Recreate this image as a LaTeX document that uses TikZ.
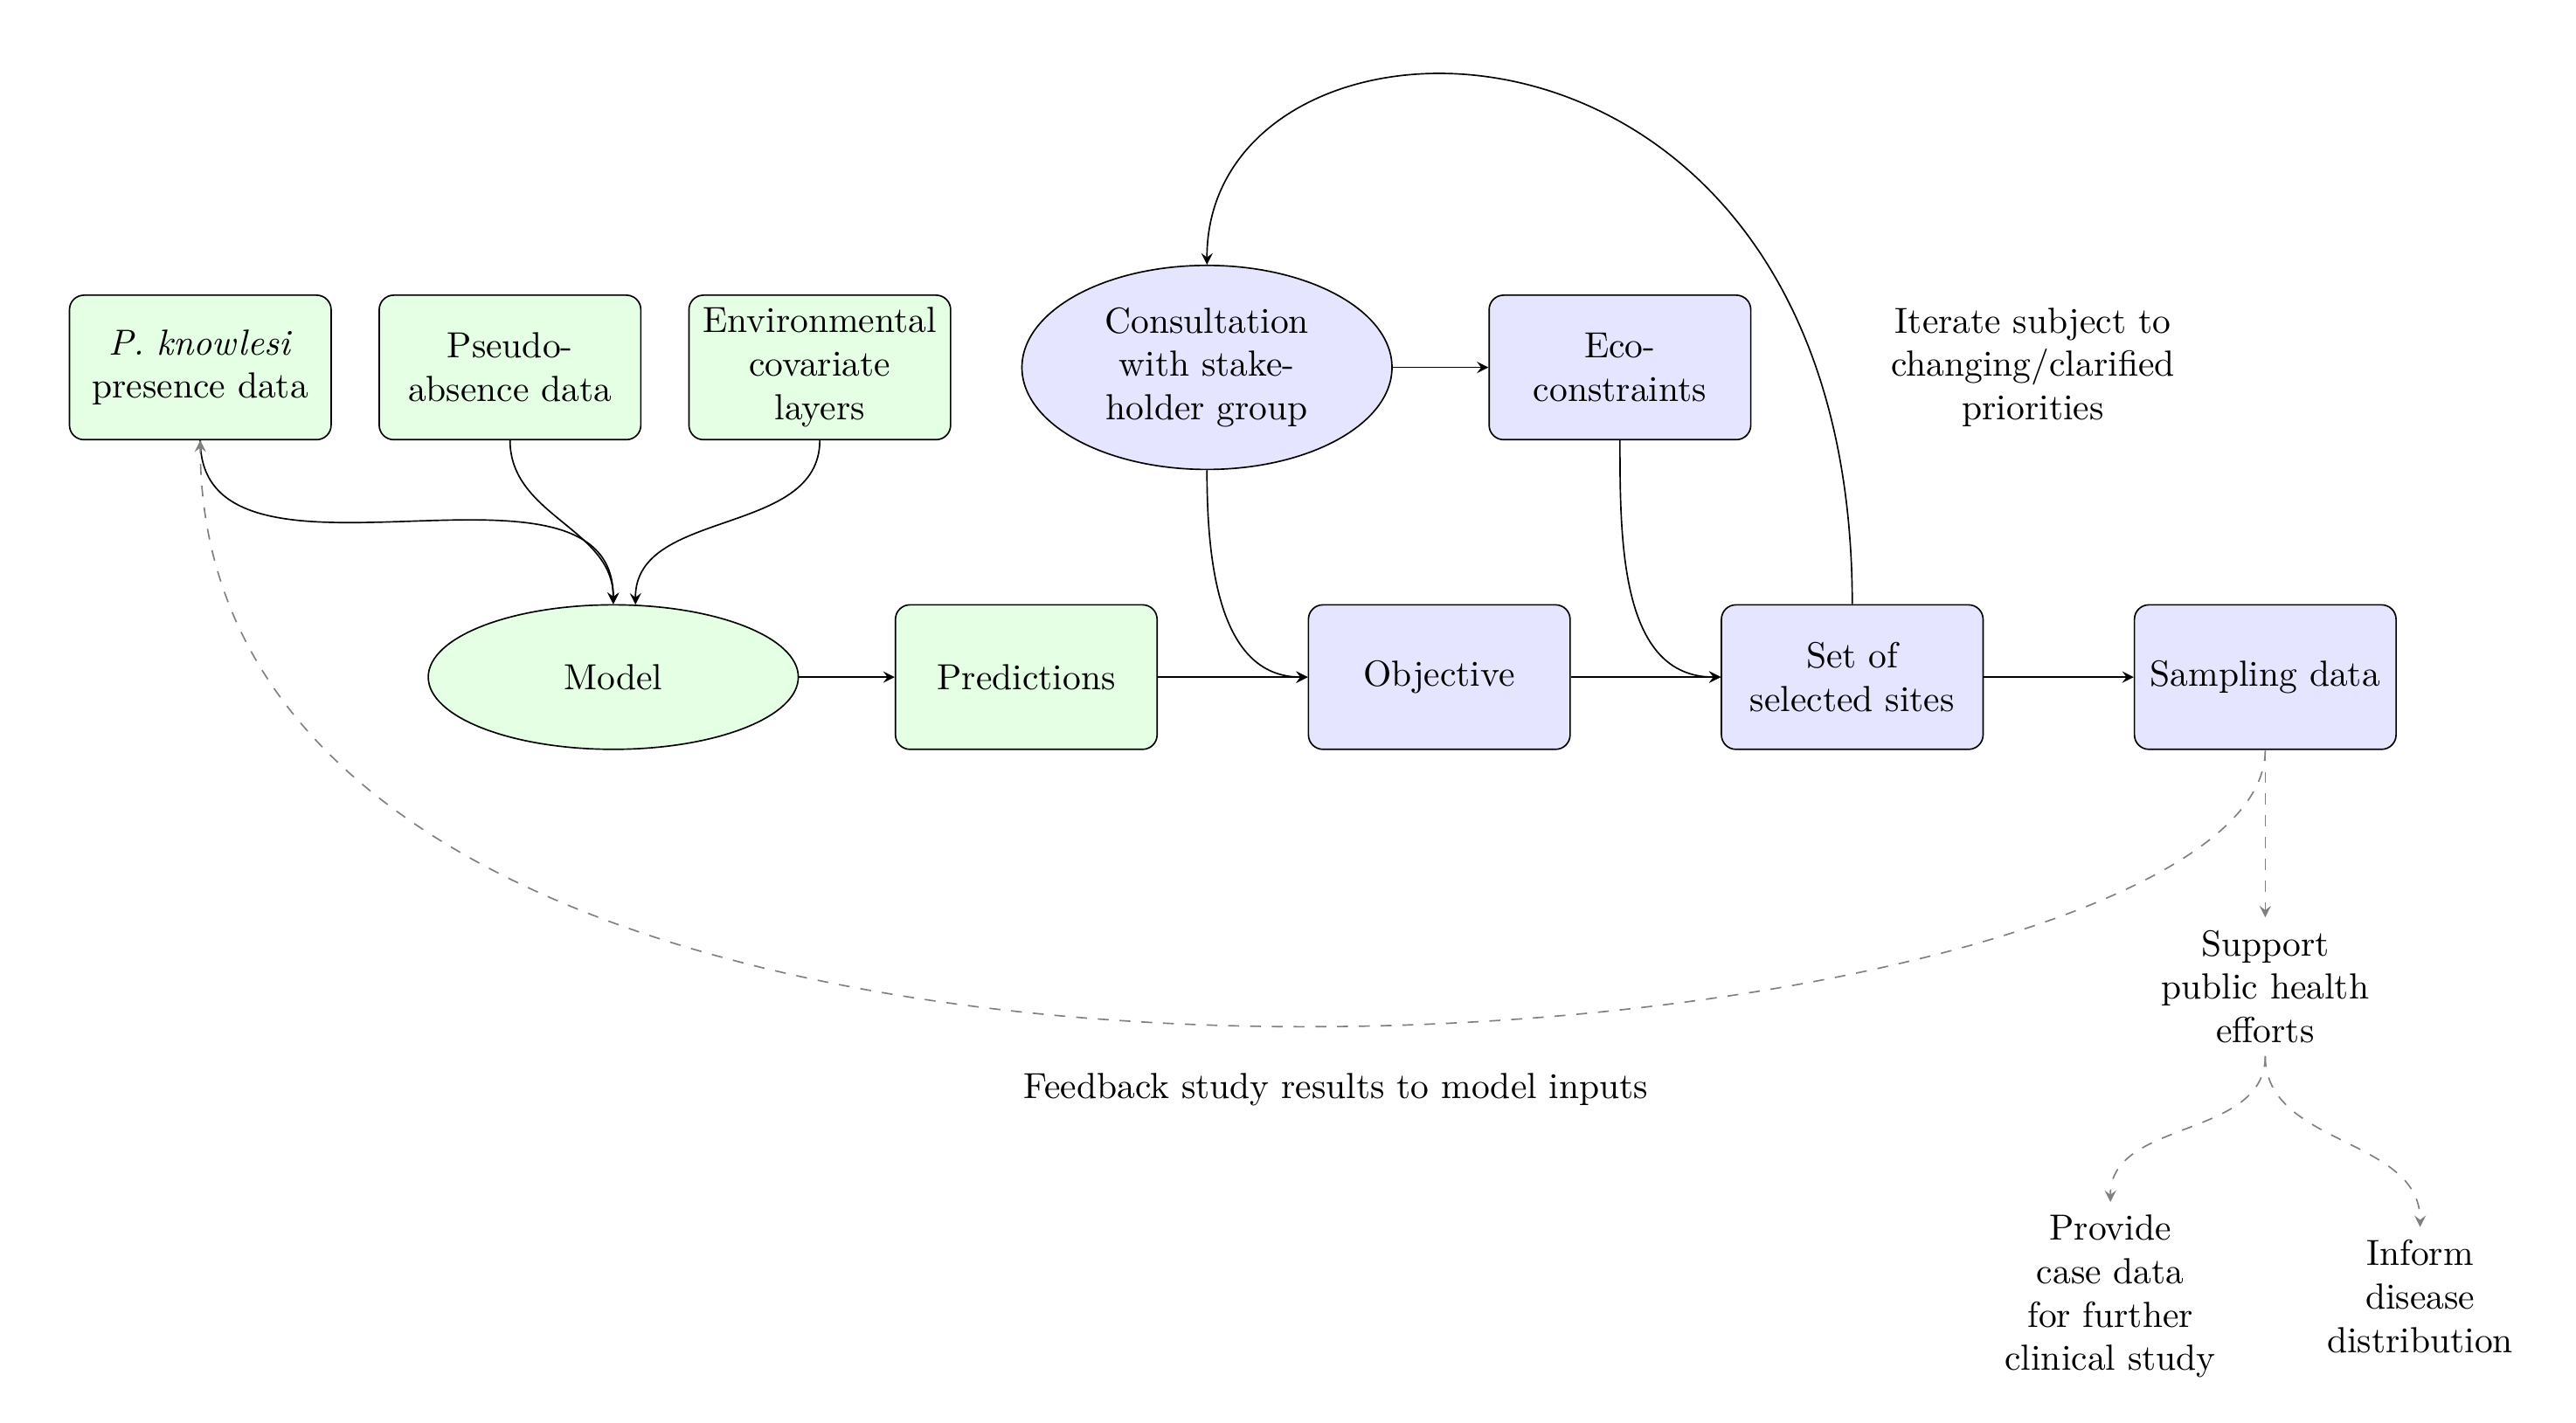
\documentclass[tikz,border=0pt]{standalone}
\usetikzlibrary{shapes.geometric}

\begin{document}
\begin{tikzpicture}[>=stealth,
        greenbox/.style={draw, rounded corners, fill=green!10, text width=2.3cm, align=center, minimum height=1.4cm},
        bluebox/.style={greenbox, fill=blue!10},
        greenoval/.style={draw, ellipse, fill=green!10, text width=2.3cm, align=center, minimum height=1.4cm},
        blueoval/.style={greenoval, fill=blue!10},
        note/.style={text width=2.3cm, align=center},
        flow/.style={->},
        outcome/.style={->, dashed, gray}]
        \useasboundingbox (-5.94,-7.22) rectangle (19.01,6.56);

        % Input data
        \node[greenbox] (presence) at (-4,3) {\textit{P.~knowlesi}\\presence data};
        \node[greenbox] (pseudo) at (-1,3) {Pseudo-\\absence data};
        \node[greenbox] (covariates) at (2,3) {Environmental\\covariate\\layers};

        % Main chain
        \node[greenoval] (model) at (0,0) {Model};
        \node[greenbox] (predictions) at (4,0) {Predictions};
        \node[bluebox] (objective) at (8,0) {Objective};
        \node[bluebox] (sites) at (12,0) {Set of\\selected sites};
        \node[bluebox] (sampling) at (16,0) {Sampling data};

        % Stakeholder loop
        \node[blueoval] (consultation) at (5.75,3) {Consultation\\with stake-\\holder group};
        \node[bluebox] (eco) at (9.75,3) {Eco-\\constraints};
        \node[align=center] (iterate) at (13.75,3) {Iterate subject to\\changing/clarified\\priorities};

        % Outcomes
        \node[note] (support) at (16,-3) {Support\\public health\\efforts};
        \node[note] (provide) at (14.5,-6) {Provide\\case data\\for further\\clinical study};
        \node[note] (inform) at (17.5,-6) {Inform\\disease\\distribution};
        \node (feedback) at (7,-4) {Feedback study results to model inputs};

        % Inputs into the model
        \draw[flow] (presence.south) to[out=-90,in=90] (model.north);
        \draw[flow] (pseudo.south) to[out=-90,in=90] (model.north);
        \draw[flow] (covariates.south) to[out=-90,in=90] (model.73);

        % Main chain arrows
        \draw[flow] (model) -- (predictions);
        \draw[flow] (predictions) -- (objective);
        \draw[flow] (objective) -- (sites);
        \draw[flow] (sites) -- (sampling);
        \draw[flow] (consultation) -- (eco);
        \draw[flow] (consultation.south) to[out=-90,in=180] (objective.west);
        \draw[flow] (eco.south) to[out=-90,in=180] (sites.west);
        \draw[flow] (sites.north) .. controls +(0,6.2) and +(0,2.8) .. (consultation.north);

        % Feedback and outcomes
        \draw[outcome] (sampling.south) .. controls +(0,-3.1) and +(0,-8) .. (presence.south);
        \draw[outcome] (sampling.south) -- (support.north);
        \draw[outcome] (support.south) to[out=-90,in=90] (provide.north);
        \draw[outcome] (support.south) to[out=-90,in=90] (inform.north);
    \end{tikzpicture}
\end{document}
